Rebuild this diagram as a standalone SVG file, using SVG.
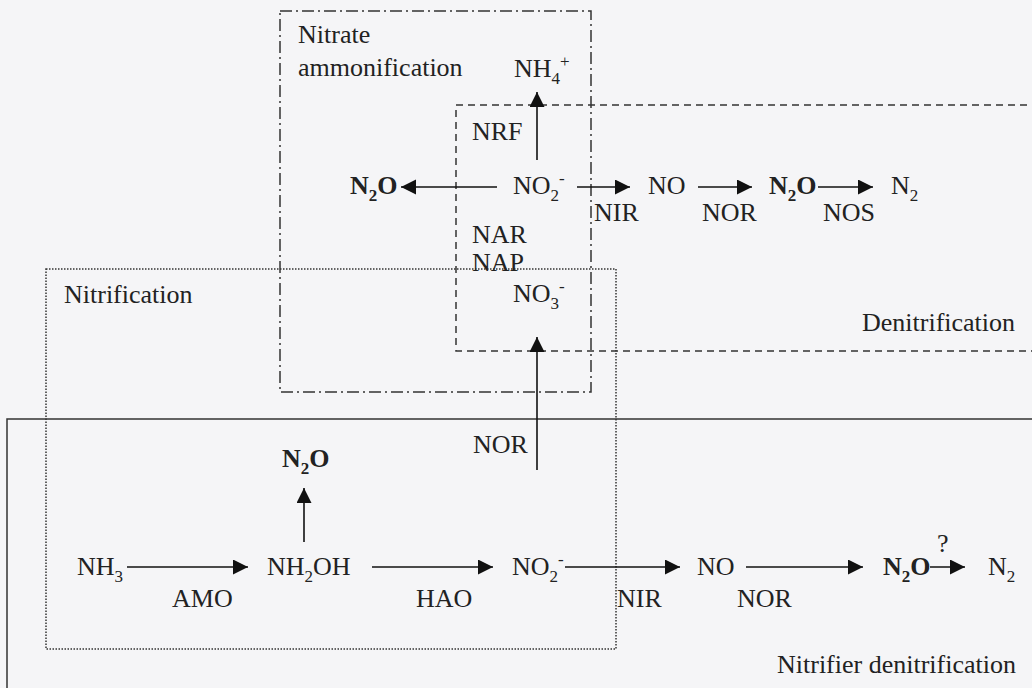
<svg xmlns="http://www.w3.org/2000/svg" width="1032" height="688" viewBox="0 0 1032 688" font-family="'Liberation Serif', 'Times New Roman', serif">
<defs>
<marker id="ah" markerWidth="16" markerHeight="16" refX="15" refY="7.5" orient="auto" markerUnits="userSpaceOnUse">
<path d="M0,0 L15,7.5 L0,15 Z" fill="#111"/>
</marker>
<style>
text{font-family:'Liberation Serif','Times New Roman',serif;font-size:26px;fill:#222}
.b{font-weight:bold}
.s{font-size:17px}
.box{fill:none;stroke:#333;stroke-width:1.5}
.dd{stroke-dasharray:12 4 2 4}
.da{stroke-dasharray:7 5}
.dt{stroke-dasharray:1.5 1.5}
.c{stroke:#111;stroke-width:1.6;fill:none;marker-end:url(#ah)}
</style>
</defs>
<rect width="1032" height="688" fill="#f5f5f7"/>
<g id="boxes">
<rect id="box-ammonification" class="box dd" x="280" y="11" width="311" height="381"/>
<rect id="box-denitrification" class="box da" x="456" y="105" width="600" height="246"/>
<rect id="box-nitrification" class="box dt" x="46" y="269" width="570" height="380"/>
<path id="box-nitrifier" class="box" d="M1040,419 H7 V700"/>
</g>
<g id="connectors">
<line class="c" x1="537" y1="160" x2="537" y2="92"/>
<line class="c" x1="497" y1="187" x2="401" y2="187"/>
<line class="c" x1="577" y1="187" x2="630" y2="187"/>
<line class="c" x1="698" y1="187" x2="752" y2="187"/>
<line class="c" x1="818" y1="187" x2="873" y2="187"/>
<line class="c" x1="537" y1="470" x2="537" y2="337"/>
<line class="c" x1="304" y1="542" x2="304" y2="488"/>
<line class="c" x1="127" y1="567" x2="248" y2="567"/>
<line class="c" x1="372" y1="567" x2="493" y2="567"/>
<line class="c" x1="565" y1="567" x2="680" y2="567"/>
<line class="c" x1="746" y1="567" x2="863" y2="567"/>
<line class="c" x1="930" y1="567" x2="965" y2="567"/>
</g>
<g id="labels">
<text x="298" y="43">Nitrate</text>
<text x="298" y="76">ammonification</text>
<text x="64" y="303">Nitrification</text>
<text x="862" y="331">Denitrification</text>
<text x="777" y="673">Nitrifier denitrification</text>
</g>
<g id="node-nh4"><text x="514" y="77">NH<tspan class="s" dy="7">4</tspan><tspan class="s" dy="-17">+</tspan></text></g>
<g id="enz-nrf"><text x="472" y="140">NRF</text></g>
<g id="node-n2o-top"><text class="b" x="350" y="194">N<tspan class="s" dy="7">2</tspan><tspan dy="-7">O</tspan></text></g>
<g id="node-no2-top"><text x="513" y="194">NO<tspan class="s" dy="7">2</tspan><tspan class="s" dy="-17">-</tspan></text></g>
<g id="enz-nir-top"><text x="594" y="221">NIR</text></g>
<g id="node-no-top"><text x="648" y="194">NO</text></g>
<g id="enz-nor-top"><text x="702" y="221">NOR</text></g>
<g id="node-n2o-den"><text class="b" x="769" y="194">N<tspan class="s" dy="7">2</tspan><tspan dy="-7">O</tspan></text></g>
<g id="enz-nos"><text x="823" y="221">NOS</text></g>
<g id="node-n2-top"><text x="891" y="194">N<tspan class="s" dy="7">2</tspan></text></g>
<g id="enz-nar"><text x="472" y="243">NAR</text><text x="472" y="271">NAP</text></g>
<g id="node-no3"><text x="513" y="302">NO<tspan class="s" dy="7">3</tspan><tspan class="s" dy="-17">-</tspan></text></g>
<g id="enz-nor-mid"><text x="473" y="453">NOR</text></g>
<g id="node-n2o-nh2oh"><text class="b" x="282" y="467">N<tspan class="s" dy="7">2</tspan><tspan dy="-7">O</tspan></text></g>
<g id="node-nh3"><text x="77" y="575">NH<tspan class="s" dy="7">3</tspan></text></g>
<g id="enz-amo"><text x="172" y="607">AMO</text></g>
<g id="node-nh2oh"><text x="267" y="575">NH<tspan class="s" dy="7">2</tspan><tspan dy="-7">OH</tspan></text></g>
<g id="enz-hao"><text x="416" y="607">HAO</text></g>
<g id="node-no2-bot"><text x="512" y="575">NO<tspan class="s" dy="7">2</tspan><tspan class="s" dy="-17">-</tspan></text></g>
<g id="enz-nir-bot"><text x="617" y="607">NIR</text></g>
<g id="node-no-bot"><text x="697" y="575">NO</text></g>
<g id="enz-nor-bot"><text x="737" y="607">NOR</text></g>
<g id="node-n2o-bot"><text class="b" x="883" y="575">N<tspan class="s" dy="7">2</tspan><tspan dy="-7">O</tspan></text></g>
<g id="enz-q"><text x="937" y="552">?</text></g>
<g id="node-n2-bot"><text x="988" y="575">N<tspan class="s" dy="7">2</tspan></text></g>
</svg>
